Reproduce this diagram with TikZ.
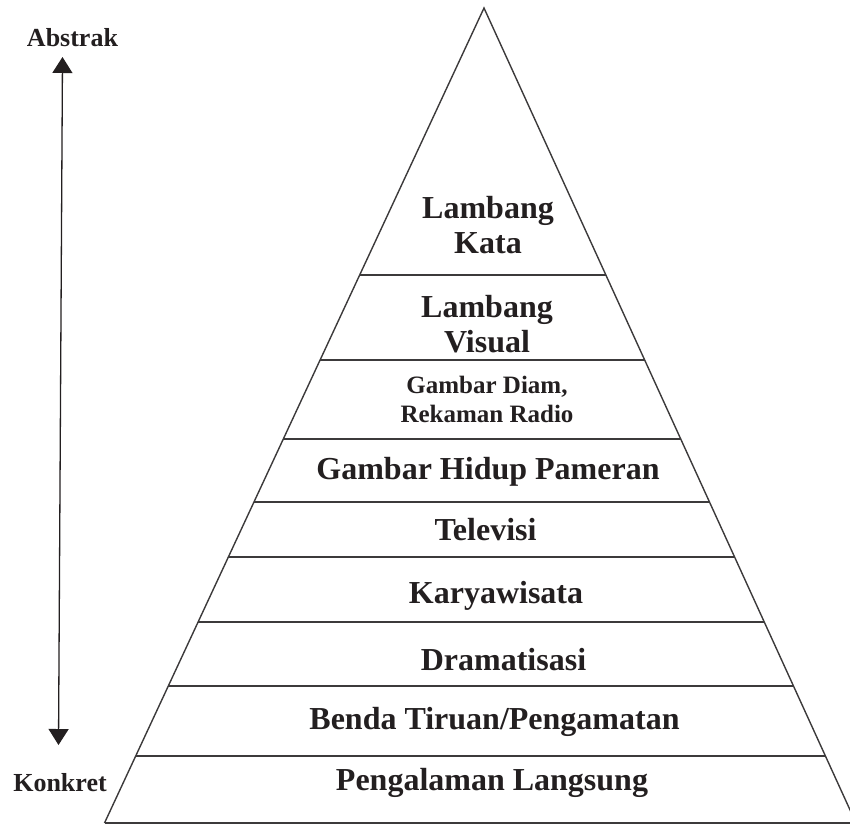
\documentclass[tikz,border=0pt]{standalone}
\usepackage{fontspec}
\setmainfont{Liberation Serif}
\usetikzlibrary{calc,arrows.meta}
\definecolor{ink}{HTML}{231F20}
\definecolor{rulec}{HTML}{3C3A3B}
\begin{document}
\begin{tikzpicture}[x=1pt,y=-1pt,
  side/.style={draw=rulec,line width=1.4pt},
  tier/.style={draw=rulec,line width=1.8pt},
  lbl/.style={font=\bfseries\fontsize{32}{34.5}\selectfont,text=ink,inner sep=0pt,anchor=base,align=center},
  lbltwo/.style={lbl,anchor=north},
  lblsmall/.style={lbl,anchor=north,font=\bfseries\fontsize{25}{29}\selectfont},
  axislbl/.style={font=\bfseries\fontsize{26}{30}\selectfont,text=ink,inner sep=0pt,anchor=base},
  axisarrow/.style={draw=ink,line width=1.3pt,{Triangle[width=20pt,length=16pt]}-{Triangle[width=20pt,length=16pt]}}]
\useasboundingbox (0,0) rectangle (850,825);
\clip (0,0) rectangle (850,825);
\coordinate (A) at (484,8);
\coordinate (L) at (104.5,823);
\coordinate (R) at (856,823);
\draw[side] (L) -- (A) -- (R);
\draw[tier] (L) -- (R);
\foreach \y in {275,360,439,502,557,622,686,756} {
  \draw[tier] ($(A)!{(\y-8)/815}!(L)$) -- ($(A)!{(\y-8)/815}!(R)$);
}
\node[lbltwo] (t1) at (488,196.3) {Lambang\\Kata};
\node[lbltwo] (t2) at (487,295.3) {Lambang\\Visual};
\node[lblsmall] (t3) at (487,376) {Gambar Diam,\\Rekaman Radio};
\node[lbl] (t4) at (488,479) {Gambar Hidup Pameran};
\node[lbl] (t5) at (485.5,540) {Televisi};
\node[lbl] (t6) at (496,603) {Karyawisata};
\node[lbl] (t7) at (503.5,670) {Dramatisasi};
\node[lbl] (t8) at (494.5,729) {Benda Tiruan/Pengamatan};
\node[lbl] (t9) at (492,790) {Pengalaman Langsung};
\node[axislbl] (abs) at (72.5,46) {Abstrak};
\node[axislbl] (kon) at (60,791) {Konkret};
\coordinate (up) at (62.5,57);
\coordinate (dn) at (58.5,745);
\draw[axisarrow] (dn) -- (up);
\end{tikzpicture}
\end{document}
